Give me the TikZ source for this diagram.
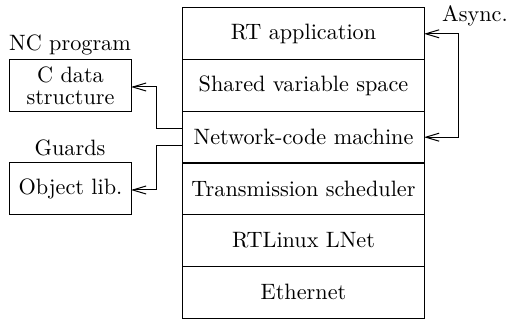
\documentclass[tikz,border=0pt]{standalone}
\usetikzlibrary{arrows.meta}
\begin{document}
\begin{tikzpicture}[x=0.45pt,y=-0.45pt,
  layer/.style={draw,line width=0.45pt,minimum width=108.5pt,minimum height=23.25pt,inner sep=0pt,outer sep=0pt},
  side/.style={draw,line width=0.45pt,minimum width=54.5pt,minimum height=23.4pt,inner sep=0pt,outer sep=0pt,align=center},
  conn/.style={line width=0.45pt,-{Straight Barb[length=6pt,width=3.6pt]}},
  lbl/.style={inner sep=0pt}]
\useasboundingbox (0,0) rectangle (507,320);
\node[layer] (rt) at (303.5,33.8) {RT application};
\node[layer] (svs) at (303.5,85.5) {Shared variable space};
\node[layer] (ncm) at (303.5,137.2) {Network-code machine};
\node[layer] (ts) at (303.5,188.8) {Transmission scheduler};
\node[layer] (lnet) at (303.5,240.5) {RTLinux LNet};
\node[layer] (eth) at (303.5,292.2) {Ethernet};
\node[side] (cds) at (70.5,86) {C data\\[-2pt]structure};
\node[side] (obj) at (70.5,189) {Object lib.};
\node[lbl] (ncp) at (70,45) {NC program};
\node[lbl] (grd) at (70,148) {Guards};
\node[lbl] (asy) at (475,16) {Async.};
\coordinate (ncmA) at ([yshift=4pt]ncm.west);
\coordinate (ncmB) at ([yshift=-3.8pt]ncm.west);
\draw[conn] (ncmA) -| (157,87) -- (cds.east |- 0,87);
\draw[conn] (ncmB) -| (157,190) -- (obj.east |- 0,190);
\draw[conn] (459,137.2) -- (ncm.east);
\draw[conn] (459,137.2) -- (459,33.8) -- (rt.east);
\end{tikzpicture}
\end{document}
